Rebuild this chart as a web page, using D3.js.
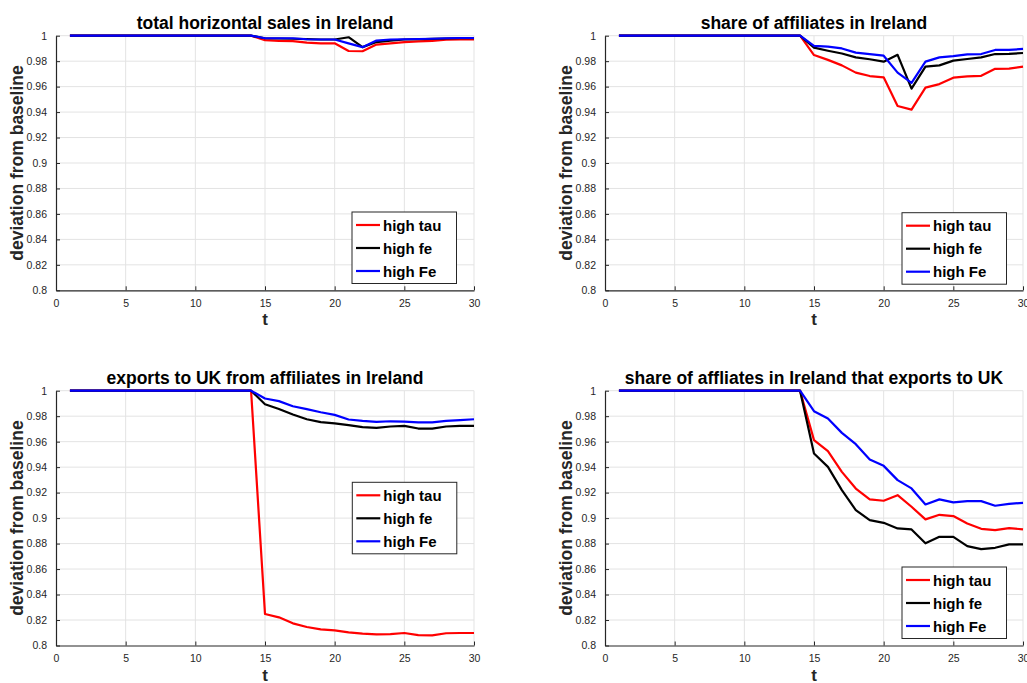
<!DOCTYPE html>
<html>
<head>
<meta charset="utf-8">
<script src="https://cdn.jsdelivr.net/npm/d3@7"></script>
<style>
  html, body { margin: 0; padding: 0; background: #fff; }
  svg { display: block; font-family: "Liberation Sans", Arial, Helvetica, sans-serif; }
</style>
</head>
<body>
<svg id="chart" width="1027" height="683"></svg>
<script>
// time periods 1..30
const periods = d3.range(1, 31);

const seriesNames = ["high tau", "high fe", "high Fe"];
const seriesColors = ["#ff0000", "#000000", "#0000ff"];

const xTicks = [0, 5, 10, 15, 20, 25, 30];
const yTicks = [0.8, 0.82, 0.84, 0.86, 0.88, 0.9, 0.92, 0.94, 0.96, 0.98, 1];
const yTickLabels = ["0.8", "0.82", "0.84", "0.86", "0.88", "0.9", "0.92", "0.94", "0.96", "0.98", "1"];

const titles = [
  "total horizontal sales in Ireland",
  "share of affiliates in Ireland",
  "exports to UK from affiliates in Ireland",
  "share of affliates in Ireland that exports to UK"
];

const flat = new Array(14).fill(1);

// total horizontal sales in Ireland
const salesTau = flat.concat([0.9965, 0.996, 0.9957, 0.9945, 0.994, 0.994, 0.988, 0.9878, 0.993, 0.994, 0.995, 0.9955, 0.996, 0.9968, 0.997, 0.997]);
const salesFe  = flat.concat([0.998, 0.9978, 0.9976, 0.9973, 0.997, 0.997, 0.9988, 0.991, 0.995, 0.9962, 0.997, 0.9972, 0.9975, 0.9978, 0.998, 0.998]);
const salesFE  = flat.concat([0.998, 0.998, 0.998, 0.9972, 0.997, 0.997, 0.994, 0.991, 0.9962, 0.997, 0.9972, 0.9974, 0.9976, 0.998, 0.9982, 0.9982]);

// share of affiliates in Ireland
const shareTau = flat.concat([0.9848, 0.981, 0.9767, 0.971, 0.9683, 0.9673, 0.9448, 0.9419, 0.9592, 0.962, 0.967, 0.968, 0.9685, 0.974, 0.9742, 0.9757]);
const shareFe  = flat.concat([0.9906, 0.9882, 0.986, 0.983, 0.9815, 0.9796, 0.985, 0.9584, 0.9757, 0.9767, 0.9804, 0.9817, 0.983, 0.9856, 0.9857, 0.9864]);
const shareFE  = flat.concat([0.992, 0.9914, 0.990, 0.9867, 0.9856, 0.9843, 0.971, 0.963, 0.9796, 0.983, 0.984, 0.9854, 0.9856, 0.9888, 0.9888, 0.9896]);

// exports to UK from affiliates in Ireland
const exportsTau = flat.concat([0.8247, 0.8221, 0.8174, 0.8145, 0.8127, 0.8119, 0.8103, 0.8093, 0.8088, 0.809, 0.8098, 0.8082, 0.808, 0.8096, 0.8098, 0.8098]);
const exportsFe  = flat.concat([0.9894, 0.9857, 0.9813, 0.9776, 0.9753, 0.9743, 0.973, 0.9714, 0.9708, 0.9719, 0.9724, 0.9703, 0.9703, 0.9719, 0.9724, 0.9724]);
const exportsFE  = flat.concat([0.9939, 0.9918, 0.9878, 0.9855, 0.9831, 0.981, 0.9774, 0.9763, 0.9755, 0.976, 0.9758, 0.9752, 0.9752, 0.9763, 0.9769, 0.9776]);

// share of affiliates in Ireland that export to UK
const exporterTau = flat.concat([0.9612, 0.9525, 0.9363, 0.9232, 0.9147, 0.9136, 0.918, 0.9089, 0.899, 0.9026, 0.9016, 0.8958, 0.8916, 0.8906, 0.8922, 0.8911]);
const exporterFe  = flat.concat([0.9507, 0.9402, 0.922, 0.9063, 0.8984, 0.8963, 0.8919, 0.8911, 0.8802, 0.8853, 0.8853, 0.878, 0.8757, 0.8767, 0.8794, 0.8794]);
const exporterFE  = flat.concat([0.9839, 0.9782, 0.9669, 0.958, 0.946, 0.941, 0.9298, 0.9233, 0.9107, 0.9147, 0.9123, 0.9133, 0.9133, 0.9097, 0.9112, 0.912]);

const panelData = [
  [salesTau, salesFe, salesFE],
  [shareTau, shareFe, shareFE],
  [exportsTau, exportsFe, exportsFE],
  [exporterTau, exporterFe, exporterFE]
];

// axes rectangles [left, right, top, bottom] and legend anchor (top-left)
const panels = [
  { box: [56, 474, 35.7, 290.3],   legend: [352, 212] },
  { box: [605, 1023, 35.7, 290.3], legend: [902, 212.7] },
  { box: [56, 474, 390.7, 645.5],  legend: [352.3, 482.3] },
  { box: [605, 1023, 390.7, 645.5], legend: [902, 567] }
];

const svg = d3.select("#chart");
const axisColor = "#262626";
const gridColor = "#e3e3e3";

panels.forEach((p, i) => {
  const [x0, x1, y0, y1] = p.box;
  const x = d3.scaleLinear().domain([0, 30]).range([x0, x1]);
  const y = d3.scaleLinear().domain([0.8, 1]).range([y1, y0]);
  const g = svg.append("g");

  // grid
  g.append("g").selectAll("line").data(xTicks.filter(t => t > 0)).join("line")
    .attr("x1", d => x(d)).attr("x2", d => x(d)).attr("y1", y0).attr("y2", y1)
    .attr("stroke", gridColor).attr("stroke-width", 1);
  g.append("g").selectAll("line").data(yTicks.filter(t => t > 0.8)).join("line")
    .attr("x1", x0).attr("x2", x1).attr("y1", d => y(d)).attr("y2", d => y(d))
    .attr("stroke", gridColor).attr("stroke-width", 1);

  // axes with inward ticks
  const xAxis = d3.axisBottom(x).tickValues(xTicks).tickSizeInner(-4).tickSizeOuter(0).tickPadding(9)
    .tickFormat(d3.format("d"));
  const gx = g.append("g").attr("transform", `translate(0,${y1})`).call(xAxis);
  const yAxis = d3.axisLeft(y).tickValues(yTicks).tickSizeInner(-4).tickSizeOuter(0).tickPadding(9)
    .tickFormat((d, k) => yTickLabels[k]);
  const gy = g.append("g").attr("transform", `translate(${x0},0)`).call(yAxis);
  [gx, gy].forEach(a => {
    a.select(".domain").attr("stroke", axisColor).attr("stroke-width", 1.2);
    a.selectAll(".tick line").attr("stroke", axisColor).attr("stroke-width", 1);
    a.selectAll(".tick text").attr("fill", axisColor).attr("font-size", 10.5)
      .attr("font-family", "'Liberation Sans', Arial, sans-serif");
  });

  // series lines
  const line = d3.line().x((d, k) => x(periods[k])).y(d => y(d));
  panelData[i].forEach((vals, s) => {
    g.append("path").datum(vals).attr("d", line)
      .attr("fill", "none").attr("stroke", seriesColors[s]).attr("stroke-width", 2.2)
      .attr("stroke-linejoin", "round");
  });

  // title
  g.append("text").attr("x", (x0 + x1) / 2).attr("y", y0 - 6.5)
    .attr("text-anchor", "middle").attr("font-weight", "bold").attr("font-size", 17.5)
    .attr("fill", "#000").text(titles[i]);

  // axis labels
  g.append("text").attr("x", (x0 + x1) / 2).attr("y", y1 + 35)
    .attr("text-anchor", "middle").attr("font-weight", "bold").attr("font-size", 17)
    .attr("fill", axisColor).text("t");
  g.append("text")
    .attr("transform", `translate(${x0 - 33},${(y0 + y1) / 2}) rotate(-90)`)
    .attr("text-anchor", "middle").attr("font-weight", "bold").attr("font-size", 17.5)
    .attr("fill", axisColor).text("deviation from baseline");

  // legend
  const [lx, ly] = p.legend;
  const lg = g.append("g").attr("transform", `translate(${lx},${ly})`);
  lg.append("rect").attr("width", 104.5).attr("height", 71.5)
    .attr("fill", "#fff").attr("stroke", axisColor).attr("stroke-width", 1);
  seriesNames.forEach((name, s) => {
    const cy = 13 + s * 23;
    lg.append("line").attr("x1", 4).attr("x2", 28).attr("y1", cy).attr("y2", cy)
      .attr("stroke", seriesColors[s]).attr("stroke-width", 2.2);
    lg.append("text").attr("x", 31).attr("y", cy + 5.5)
      .attr("font-weight", "bold").attr("font-size", 15).attr("fill", "#000").text(name);
  });
});
</script>
</body>
</html>
